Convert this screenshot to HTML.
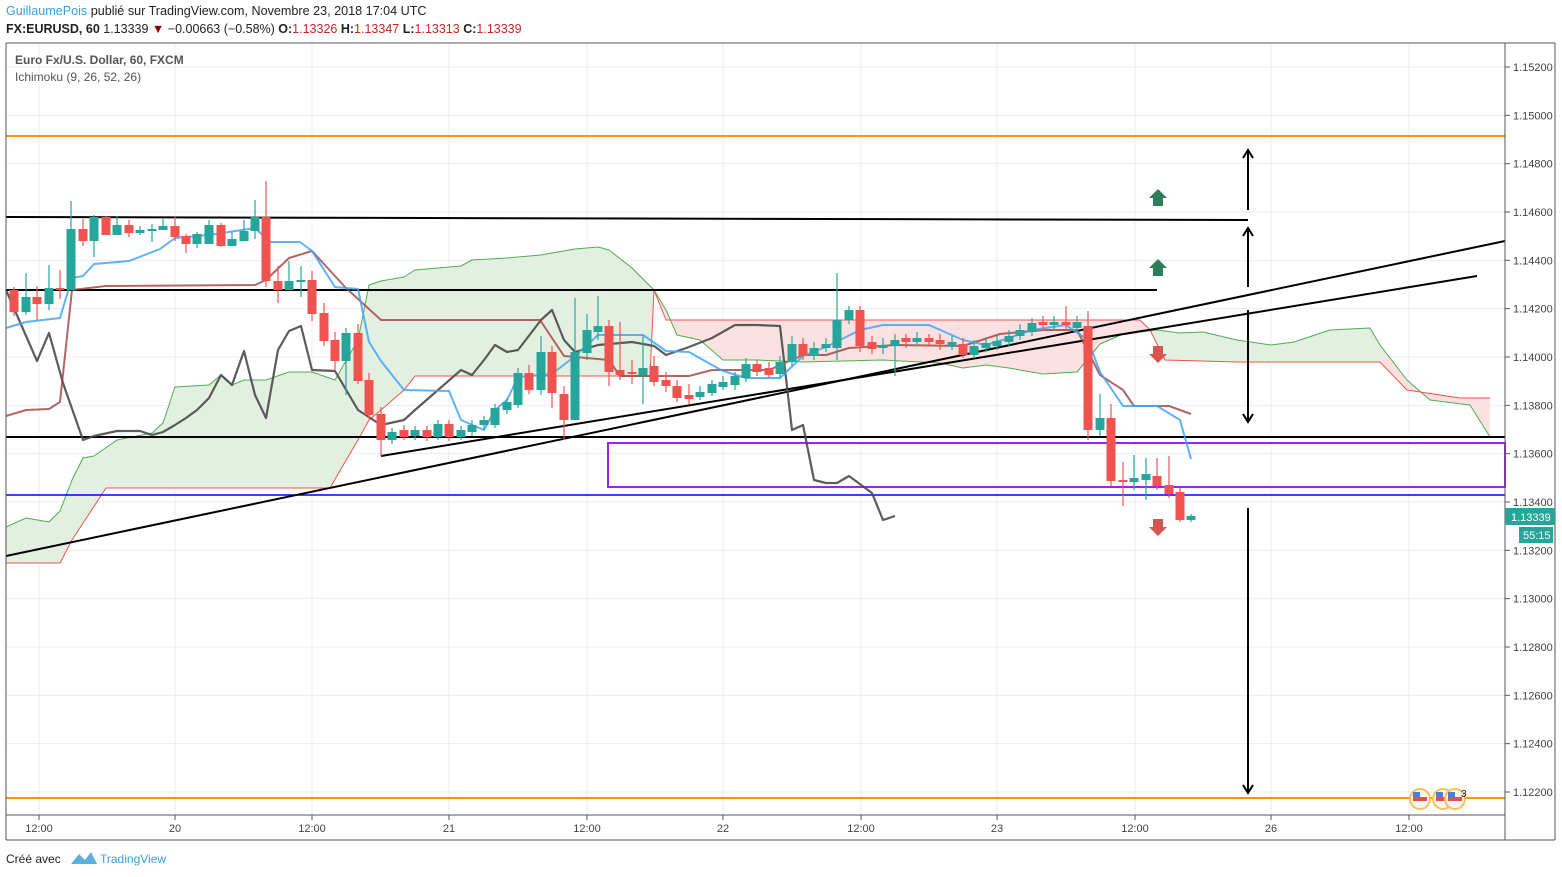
<!DOCTYPE html>
<html><head><meta charset="utf-8"><style>
body{margin:0;width:1562px;height:877px;background:#fff;overflow:hidden;font-family:"Liberation Sans",sans-serif}
.t{position:absolute;font-size:12px;white-space:nowrap;color:#222}
</style></head><body>
<div class="t" style="left:6px;top:4px;font-size:12.6px"><span style="color:#3ba0db">GuillaumePois</span> publié sur TradingView.com, Novembre 23, 2018 17:04 UTC</div>
<div class="t" style="left:6px;top:22px;font-size:12.5px"><b>FX:EURUSD, 60</b> 1.13339 <span style="color:#8b0000">▼</span> −0.00663 (−0.58%) <b>O:</b><span style="color:#c62828">1.13326</span> <b>H:</b><span style="color:#c62828">1.13347</span> <b>L:</b><span style="color:#c62828">1.13313</span> <b>C:</b><span style="color:#c62828">1.13339</span></div>
<svg id="s" width="1562" height="877" style="position:absolute;left:0;top:0;z-index:-1" xmlns="http://www.w3.org/2000/svg"></svg>
<div class="t" style="left:15px;top:53px;color:#555;font-weight:bold">Euro Fx/U.S. Dollar, 60, FXCM</div>
<div class="t" style="left:15px;top:70px;color:#555">Ichimoku (9, 26, 52, 26)</div>
<div class="t" style="left:6px;top:852px">Créé avec</div>
<div class="t" style="left:100px;top:852px;color:#3ba0db">TradingView</div>
<svg width="30" height="16" style="position:absolute;left:69px;top:850px"><path d="M2 14 L10 4 L16 10 L22 2 L28 14Z" fill="#5bb0e0"/></svg>
<script>
var o='';
function L(x1,y1,x2,y2,c,w,extra){o+=`<line x1="${x1}" y1="${y1}" x2="${x2}" y2="${y2}" stroke="${c}" stroke-width="${w}" ${extra||''}/>`}
function P(pts,c,w,op){o+=`<polyline points="${pts.map(p=>p.join(',')).join(' ')}" fill="none" stroke="${c}" stroke-width="${w}" stroke-opacity="${op||1}" stroke-linejoin="round"/>`}
for(var i=0;i<16;i++){var y=67+i*48.333;L(6,y,1505,y,'#e8eef3',1);o+=`<line x1="1505" y1="${y}" x2="1510" y2="${y}" stroke="#555"/><text x="1513" y="${y+4}" font-size="11" fill="#444" font-family="Liberation Sans">${(1.152-i*0.002).toFixed(5)}</text>`}
var xl=[[39,'12:00'],[175,'20'],[312,'12:00'],[449,'21'],[587,'12:00'],[723,'22'],[861,'12:00'],[997,'23'],[1135,'12:00'],[1271,'26'],[1409,'12:00']];
xl.forEach(a=>{L(a[0],43,a[0],815,'#e8eef3',1);L(a[0],815,a[0],820,'#555',1);o+=`<text x="${a[0]}" y="832" font-size="11" fill="#444" text-anchor="middle" font-family="Liberation Sans">${a[1]}</text>`});
var A=[[6,527],[26,518],[49,522],[60,511],[72,480],[83,458],[94,456],[117,440],[152,433],[163,423],[175,387],[209,385],[221,375],[232,385],[244,380],[266,380],[289,372],[312,372],[335,380],[358,340],[369,285],[381,281],[404,277],[415,270],[438,268],[461,266],[472,260],[507,258],[541,255],[552,253],[575,249],[598,247],[609,250],[632,268],[654,290],[666,310],[677,335],[700,340],[723,360],[757,360],[803,362],[883,360],[940,363],[963,368],[986,365],[1009,368],[1043,374],[1077,372],[1100,344],[1123,334],[1157,330],[1180,333],[1203,332],[1237,340],[1271,345],[1294,342],[1330,330],[1370,328],[1380,345],[1407,380],[1430,400],[1470,405],[1490,437]];
var B=[[6,563],[60,563],[72,540],[106,488],[330,488],[345,462],[358,440],[369,420],[381,410],[404,390],[415,376],[650,376],[654,290],[666,320],[1140,320],[1150,330],[1165,360],[1237,362],[1380,362],[1407,390],[1460,398],[1490,398]];
var poly=A.concat(B.slice().reverse()).map(p=>p.join(',')).join(' ');
o+=`<defs><clipPath id="g"><rect x="0" y="0" width="657" height="900"/><rect x="1145" y="0" width="238" height="900"/></clipPath><clipPath id="r"><rect x="657" y="0" width="488" height="900"/><rect x="1383" y="0" width="200" height="900"/></clipPath></defs>`;
o+=`<polygon points="${poly}" fill="#e3efe1" clip-path="url(#g)"/><polygon points="${poly}" fill="#fbe1e1" clip-path="url(#r)"/>`;
P(A,'#4caf50',1);P(B,'#ef5350',1);
L(6,136,1505,136,'#ff9800',2);L(6,798,1505,798,'#ff9800',2);
L(6,217,1248,220,'#000',2);L(6,290,1157,290,'#000',2);L(6,437,1505,437,'#000',2);
L(6,495,1505,495,'#0000ff',1.5);
o+=`<rect x="608" y="443" width="897" height="44" fill="none" stroke="#a020f0" stroke-width="2"/>`;
L(6,556,1505,241,'#000',2);L(381,456,1477,276,'#000',2);
P([[6,290],[37,361],[49,333],[63,383],[83,440],[94,436],[117,431],[140,431],[152,435],[163,432],[175,425],[186,418],[197,410],[209,398],[221,375],[232,385],[244,351],[255,395],[266,418],[278,350],[289,331],[301,326],[312,370],[335,371],[358,410],[381,425],[404,420],[415,410],[438,390],[461,370],[472,375],[484,360],[495,345],[507,352],[518,350],[541,320],[552,310],[564,340],[575,352],[598,345],[632,342],[654,346],[666,355],[689,347],[712,338],[735,325],[757,325],[780,326],[792,430],[803,425],[814,480],[826,483],[837,483],[849,476],[872,493],[883,520],[895,516]],'#4a4a4a',2.2,0.9);
P([[6,416],[26,410],[49,409],[60,402],[72,290],[106,286],[255,285],[266,280],[289,258],[312,251],[346,288],[381,320],[540,320],[564,356],[609,360],[620,376],[689,376],[712,370],[769,370],[803,355],[826,355],[849,348],[895,345],[963,346],[1000,334],[1043,330],[1077,330],[1100,375],[1123,390],[1134,406],[1169,406],[1191,414]],'#a0403e',2,0.8);
P([[6,328],[26,322],[60,318],[72,278],[83,276],[94,264],[129,261],[160,249],[175,238],[209,235],[255,228],[270,242],[300,242],[312,251],[335,287],[358,289],[369,342],[381,361],[404,390],[449,391],[461,420],[484,430],[495,410],[507,400],[518,377],[552,374],[575,356],[598,335],[643,335],[666,351],[689,352],[712,365],[723,371],[746,378],[780,378],[803,356],[826,347],[860,330],[883,325],[929,325],[963,340],[986,345],[1009,338],[1032,330],[1066,325],[1088,340],[1100,372],[1123,406],[1157,406],[1180,420],[1191,459]],'#42a5f5',2,0.85);
var C=[[14,290,312,287,316,0],[26,297,312,273,315,1],[37,297,304,286,320,0],[49,288,304,265,310,1],[60,288,290,270,299,0],[71,229,290,201,290,1],[83,229,241,219,246,0],[94,217,241,215,257,1],[106,217,235,216,235,0],[117,225,235,216,235,1],[129,225,233,220,237,0],[140,230,233,226,235,1],[152,229,231,224,242,1],[163,226,230,218,230,1],[175,226,237,216,241,0],[186,236,244,234,253,0],[197,234,244,232,248,1],[209,225,244,220,242,1],[221,225,246,223,247,0],[232,239,246,232,246,1],[244,231,241,220,239,1],[255,217,231,200,239,1],[266,217,281,181,287,0],[278,281,290,266,303,0],[289,281,290,261,290,1],[301,280,282,266,297,1],[312,280,314,271,321,0],[324,313,341,303,346,0],[335,340,361,332,371,0],[346,333,361,328,395,1],[358,333,381,324,384,0],[369,380,415,373,418,0],[381,414,440,407,456,0],[392,432,440,428,444,1],[404,430,437,425,440,0],[415,430,436,426,440,1],[427,430,437,426,441,0],[438,424,437,420,440,1],[449,424,437,420,441,0],[461,430,437,426,440,1],[472,425,432,420,436,1],[484,420,425,416,430,1],[495,408,425,404,428,1],[507,402,410,398,414,1],[518,373,405,368,408,1],[529,373,390,365,394,0],[541,352,390,336,395,1],[552,352,393,346,408,0],[564,394,420,386,440,0],[575,352,420,298,420,1],[587,330,353,314,360,1],[598,326,332,296,340,1],[609,326,372,320,386,0],[620,370,375,322,380,0],[632,372,374,360,384,0],[643,368,375,335,404,1],[654,366,382,356,386,0],[666,380,386,372,392,0],[677,386,398,380,402,0],[689,395,399,384,404,0],[700,392,397,386,400,1],[712,384,393,380,396,1],[723,382,387,376,390,1],[735,376,385,372,390,1],[746,364,378,358,382,1],[757,364,372,360,376,0],[769,368,375,362,378,0],[780,362,374,356,378,1],[792,344,362,336,366,1],[803,344,356,338,360,0],[814,348,356,342,360,1],[826,344,348,338,352,1],[837,320,348,273,360,1],[849,310,320,306,324,1],[860,310,346,306,352,0],[872,342,349,336,354,0],[883,345,348,338,354,1],[895,340,346,334,376,1],[906,338,342,334,348,0],[917,338,342,332,346,1],[929,338,342,334,346,0],[940,340,344,334,350,0],[952,342,346,336,350,1],[963,344,355,338,358,0],[974,346,355,340,358,1],[986,343,348,338,352,1],[997,341,346,336,350,1],[1009,336,342,330,346,1],[1020,330,336,324,340,1],[1032,323,332,318,336,1],[1043,322,325,316,330,0],[1054,322,325,316,330,1],[1066,322,325,306,330,0],[1077,322,328,316,332,1],[1088,326,430,311,440,0],[1100,418,430,394,436,1],[1111,418,481,404,486,0],[1123,480,482,462,506,0],[1134,478,482,455,490,1],[1146,474,480,458,500,1],[1157,476,486,458,490,0],[1169,485,494,456,498,0],[1180,492,520,488,522,0],[1191,516,520,514,522,1]];
C.forEach(c=>{var col=c[5]?'#26a69a':'#ef5350';L(c[0],c[3],c[0],c[4],col,1.2);o+=`<rect x="${c[0]-4.5}" y="${c[1]}" width="9" height="${Math.max(2,c[2]-c[1])}" fill="${col}"/>`});
function arr(x,y1,y2,up){L(x,y1,x,y2,'#000',2);var hy=up?y1:y2,d=up?1:-1;o+=`<polyline points="${x-5},${hy+8*d} ${x},${hy} ${x+5},${hy+8*d}" fill="none" stroke="#000" stroke-width="2"/>`}
arr(1248,150,210,1);arr(1248,228,287,1);arr(1248,310,422,0);arr(1248,508,793,0);
function ga(y){o+=`<polygon points="1149,${y+9} 1158,${y} 1167,${y+9} 1163,${y+9} 1163,${y+17} 1153,${y+17} 1153,${y+9}" fill="#2e7d5b"/>`}
function ra(y){o+=`<polygon points="1149,${y+8} 1158,${y+17} 1167,${y+8} 1163,${y+8} 1163,${y} 1153,${y} 1153,${y+8}" fill="#d9534f"/>`}
ga(189);ga(259);ra(346);ra(519);
[1420,1443,1455].forEach(x=>{o+=`<circle cx="${x}" cy="799" r="10" fill="#f4f6fb" stroke="#ffc04d" stroke-width="2"/><rect x="${x-7}" y="797" width="14" height="4" fill="#e05050"/><rect x="${x-7}" y="792" width="7" height="5" fill="#4a7fd8"/>`});
o+=`<text x="1461" y="797" font-size="10" fill="#222">3</text>`;
o+=`<rect x="6" y="43" width="1499" height="772" fill="none" stroke="#555"/>`;
L(1505,43,1505,840,'#555',1);L(1555,43,1555,840,'#555',1);L(1505,43,1555,43,'#555',1);L(6,840,1555,840,'#555',1);L(6,815,6,840,'#555',1);
o+=`<rect x="1505" y="508" width="50" height="17" fill="#26a69a"/><text x="1511" y="521" font-size="11" fill="#fff">1.13339</text><rect x="1519" y="527" width="34" height="16" fill="#26a69a"/><text x="1523" y="539" font-size="11" fill="#fff">55:15</text>`;
document.getElementById('s').innerHTML=o;
</script>
</body></html>
